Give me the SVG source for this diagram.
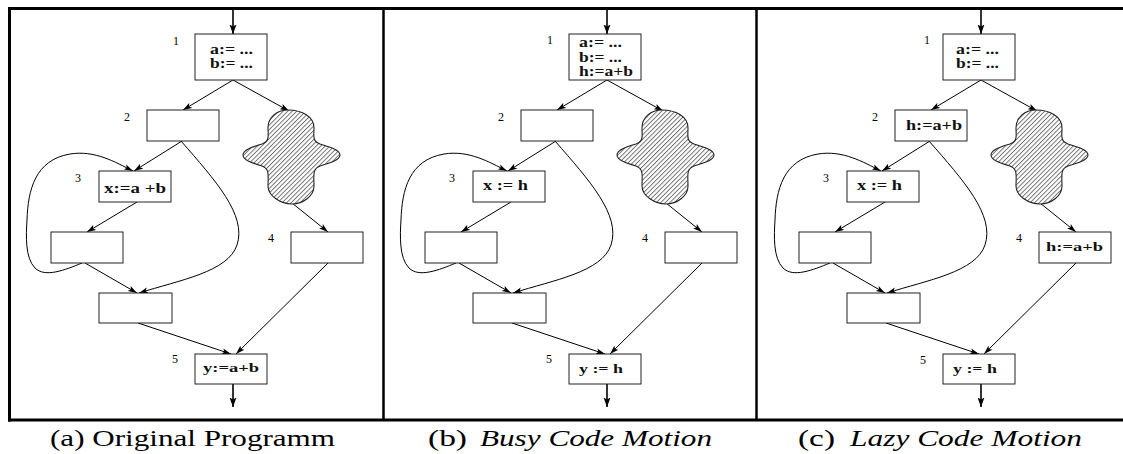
<svg xmlns="http://www.w3.org/2000/svg" xmlns:xlink="http://www.w3.org/1999/xlink" width="1123" height="454" viewBox="0 0 1123 454">
<style>
.box{fill:#fff;stroke:#222;stroke-width:1}
.edge{fill:none;stroke:#000;stroke-width:1;marker-end:url(#ah)}
.entry{fill:none;stroke:#000;stroke-width:1.6;marker-end:url(#ahb)}
.code{font-family:"Liberation Serif","Times New Roman",serif;font-weight:bold;fill:#111}
.lbl{font-family:"Liberation Serif","Times New Roman",serif;font-size:12px;fill:#000}
.cap{font-family:"Liberation Serif","Times New Roman",serif;font-size:24px;fill:#000}
.frame{stroke:#000;fill:none}
.blob{fill:url(#hatch);stroke:#222;stroke-width:1.1}
</style>
<defs>
<marker id="ah" markerUnits="userSpaceOnUse" markerWidth="10" markerHeight="7" refX="9" refY="3.5" orient="auto">
<path d="M0,0.6 L9,3.5 L0,6.4 L2,3.5 Z" fill="#000"/>
</marker>
<marker id="ahb" markerUnits="userSpaceOnUse" markerWidth="10" markerHeight="8" refX="9.5" refY="4" orient="auto">
<path d="M0,0.5 L9.5,4 L0,7.5 L2,4 Z" fill="#000"/>
</marker>
<pattern id="hatch" patternUnits="userSpaceOnUse" width="3.2" height="3.2" patternTransform="rotate(45)">
<rect width="3.2" height="3.2" fill="#fff"/>
<line x1="0.5" y1="0" x2="0.5" y2="3.2" stroke="#555" stroke-width="0.8"/>
</pattern>
<path id="blobshape" d="M288,110 C301,110 314,116 314,128 C314,136 312,141 320,144 C330,147 340,150 340,155 C340,160 330,163 320,166 C312,169 314,176 314,186 C314,196 303,204 292,204 C281,204 268,196 268,186 C268,176 270,169 262,166 C252,163 243,160 243,155 C243,150 252,147 262,144 C270,141 268,136 268,128 C268,117 277,110 288,110 Z"/>
</defs>
<rect width="1123" height="454" fill="#fff"/>

<g id="frame" class="frame">
<line x1="8" y1="8.5" x2="1123" y2="8.5" stroke-width="3"/>
<line x1="8" y1="420" x2="1123" y2="420" stroke-width="3"/>
<line x1="9.5" y1="7" x2="9.5" y2="421.5" stroke-width="3"/>
<line x1="383.5" y1="8" x2="383.5" y2="420" stroke-width="2.5"/>
<line x1="756.5" y1="8" x2="756.5" y2="420" stroke-width="2.5"/>
</g>

<!-- Panel (a) -->
<g id="panel-a">
<g id="a-connectors">
<line class="entry" x1="233" y1="10" x2="233" y2="34"/>
<line class="edge" x1="233" y1="80" x2="183" y2="110"/>
<line class="edge" x1="233" y1="80" x2="289" y2="111"/>
<line class="edge" x1="182" y1="141" x2="134" y2="171"/>
<path class="edge" d="M181,141 C215,180 247,215 237,245 C228,272 180,280 139,293"/>
<line class="edge" x1="137" y1="202" x2="87" y2="232"/>
<line class="edge" x1="85" y1="263" x2="137" y2="293"/>
<path class="edge" d="M82,263 C65,270 45,278 35,268 C25,258 26,235 27,220 C28,190 35,160 70,154 C95,150 115,162 133,171"/>
<line class="edge" x1="292" y1="203" x2="328" y2="232"/>
<line class="edge" x1="328" y1="263" x2="236" y2="354"/>
<line class="edge" x1="138" y1="323" x2="231" y2="354"/>
<line class="entry" x1="233" y1="384" x2="233" y2="407"/>
</g>
<g id="a-n1"><rect class="box" x="195" y="34" width="72" height="46"/>
<text class="code" font-size="14" x="210" y="54" textLength="43" lengthAdjust="spacingAndGlyphs">a:= ...</text>
<text class="code" font-size="14" x="210" y="68" textLength="43" lengthAdjust="spacingAndGlyphs">b:= ...</text>
<text class="lbl" x="173" y="45">1</text></g>
<g id="a-n2"><rect class="box" x="147" y="110" width="72" height="31"/><text class="lbl" x="124" y="121">2</text></g>
<g id="a-blob"><use xlink:href="#blobshape" href="#blobshape" class="blob"/></g>
<g id="a-n3"><rect class="box" x="99" y="171" width="72" height="31"/>
<text class="code" font-size="15" x="104" y="193" textLength="62" lengthAdjust="spacingAndGlyphs">x:=a +b</text>
<text class="lbl" x="75" y="182">3</text></g>
<g id="a-nL"><rect class="box" x="51" y="232" width="72" height="31"/></g>
<g id="a-n4"><rect class="box" x="291" y="232" width="72" height="31"/><text class="lbl" x="268" y="242">4</text></g>
<g id="a-nB"><rect class="box" x="99" y="293" width="73" height="30"/></g>
<g id="a-n5"><rect class="box" x="195" y="354" width="72" height="30"/>
<text class="code" font-size="12" x="203" y="372" textLength="56" lengthAdjust="spacingAndGlyphs">y:=a+b</text>
<text class="lbl" x="172" y="363">5</text></g>
</g>

<!-- Panel (b) -->
<g id="panel-b" transform="translate(374,0)">
<g id="b-connectors">
<line class="entry" x1="233" y1="10" x2="233" y2="34"/>
<line class="edge" x1="233" y1="80" x2="183" y2="110"/>
<line class="edge" x1="233" y1="80" x2="289" y2="111"/>
<line class="edge" x1="182" y1="141" x2="134" y2="171"/>
<path class="edge" d="M181,141 C215,180 247,215 237,245 C228,272 180,280 139,293"/>
<line class="edge" x1="137" y1="202" x2="87" y2="232"/>
<line class="edge" x1="85" y1="263" x2="137" y2="293"/>
<path class="edge" d="M82,263 C65,270 45,278 35,268 C25,258 26,235 27,220 C28,190 35,160 70,154 C95,150 115,162 133,171"/>
<line class="edge" x1="292" y1="203" x2="328" y2="232"/>
<line class="edge" x1="328" y1="263" x2="236" y2="354"/>
<line class="edge" x1="138" y1="323" x2="231" y2="354"/>
<line class="entry" x1="233" y1="384" x2="233" y2="407"/>
</g>
<g id="b-n1"><rect class="box" x="195" y="34" width="72" height="46"/>
<text class="code" font-size="14" x="205" y="47" textLength="43" lengthAdjust="spacingAndGlyphs">a:= ...</text>
<text class="code" font-size="14" x="205" y="62" textLength="43" lengthAdjust="spacingAndGlyphs">b:= ...</text>
<text class="code" font-size="14" x="205" y="76" textLength="54" lengthAdjust="spacingAndGlyphs">h:=a+b</text>
<text class="lbl" x="173" y="44">1</text></g>
<g id="b-n2"><rect class="box" x="147" y="110" width="72" height="31"/><text class="lbl" x="124" y="121">2</text></g>
<g id="b-blob"><use xlink:href="#blobshape" href="#blobshape" class="blob"/></g>
<g id="b-n3"><rect class="box" x="99" y="171" width="72" height="31"/>
<text class="code" font-size="15" x="109" y="190" textLength="45" lengthAdjust="spacingAndGlyphs">x := h</text>
<text class="lbl" x="75" y="182">3</text></g>
<g id="b-nL"><rect class="box" x="51" y="232" width="72" height="31"/></g>
<g id="b-n4"><rect class="box" x="291" y="232" width="72" height="31"/><text class="lbl" x="268" y="242">4</text></g>
<g id="b-nB"><rect class="box" x="99" y="293" width="73" height="30"/></g>
<g id="b-n5"><rect class="box" x="195" y="354" width="72" height="30"/>
<text class="code" font-size="12" x="205" y="373" textLength="44" lengthAdjust="spacingAndGlyphs">y := h</text>
<text class="lbl" x="172" y="363">5</text></g>
</g>

<!-- Panel (c) -->
<g id="panel-c" transform="translate(748,0)">
<g id="c-connectors">
<line class="entry" x1="233" y1="10" x2="233" y2="34"/>
<line class="edge" x1="233" y1="80" x2="183" y2="110"/>
<line class="edge" x1="233" y1="80" x2="289" y2="111"/>
<line class="edge" x1="182" y1="141" x2="134" y2="171"/>
<path class="edge" d="M181,141 C215,180 247,215 237,245 C228,272 180,280 139,293"/>
<line class="edge" x1="137" y1="202" x2="87" y2="232"/>
<line class="edge" x1="85" y1="263" x2="137" y2="293"/>
<path class="edge" d="M82,263 C65,270 45,278 35,268 C25,258 26,235 27,220 C28,190 35,160 70,154 C95,150 115,162 133,171"/>
<line class="edge" x1="292" y1="203" x2="328" y2="232"/>
<line class="edge" x1="328" y1="263" x2="236" y2="354"/>
<line class="edge" x1="138" y1="323" x2="231" y2="354"/>
<line class="entry" x1="233" y1="384" x2="233" y2="407"/>
</g>
<g id="c-n1"><rect class="box" x="195" y="34" width="72" height="46"/>
<text class="code" font-size="14" x="208" y="54" textLength="43" lengthAdjust="spacingAndGlyphs">a:= ...</text>
<text class="code" font-size="14" x="208" y="68" textLength="43" lengthAdjust="spacingAndGlyphs">b:= ...</text>
<text class="lbl" x="176" y="44">1</text></g>
<g id="c-n2"><rect class="box" x="147" y="110" width="72" height="31"/>
<text class="code" font-size="14" x="158" y="130" textLength="56" lengthAdjust="spacingAndGlyphs">h:=a+b</text>
<text class="lbl" x="124" y="121">2</text></g>
<g id="c-blob"><use xlink:href="#blobshape" href="#blobshape" class="blob"/></g>
<g id="c-n3"><rect class="box" x="99" y="171" width="72" height="31"/>
<text class="code" font-size="15" x="109" y="190" textLength="45" lengthAdjust="spacingAndGlyphs">x := h</text>
<text class="lbl" x="75" y="182">3</text></g>
<g id="c-nL"><rect class="box" x="51" y="232" width="72" height="31"/></g>
<g id="c-n4"><rect class="box" x="291" y="232" width="72" height="31"/>
<text class="code" font-size="13" x="298" y="251" textLength="57" lengthAdjust="spacingAndGlyphs">h:=a+b</text>
<text class="lbl" x="268" y="242">4</text></g>
<g id="c-nB"><rect class="box" x="99" y="293" width="73" height="30"/></g>
<g id="c-n5"><rect class="box" x="195" y="354" width="72" height="30"/>
<text class="code" font-size="12" x="205" y="373" textLength="44" lengthAdjust="spacingAndGlyphs">y := h</text>
<text class="lbl" x="172" y="364">5</text></g>
</g>

<g id="captions">
<text class="cap" x="50" y="446" textLength="285" lengthAdjust="spacingAndGlyphs">(a) Original Programm</text>
<text class="cap" x="428" y="446" textLength="39" lengthAdjust="spacingAndGlyphs">(b)</text>
<text class="cap" x="480" y="446" font-style="italic" textLength="232" lengthAdjust="spacingAndGlyphs">Busy Code Motion</text>
<text class="cap" x="798" y="446" textLength="37" lengthAdjust="spacingAndGlyphs">(c)</text>
<text class="cap" x="850" y="446" font-style="italic" textLength="232" lengthAdjust="spacingAndGlyphs">Lazy Code Motion</text>
</g>
</svg>
